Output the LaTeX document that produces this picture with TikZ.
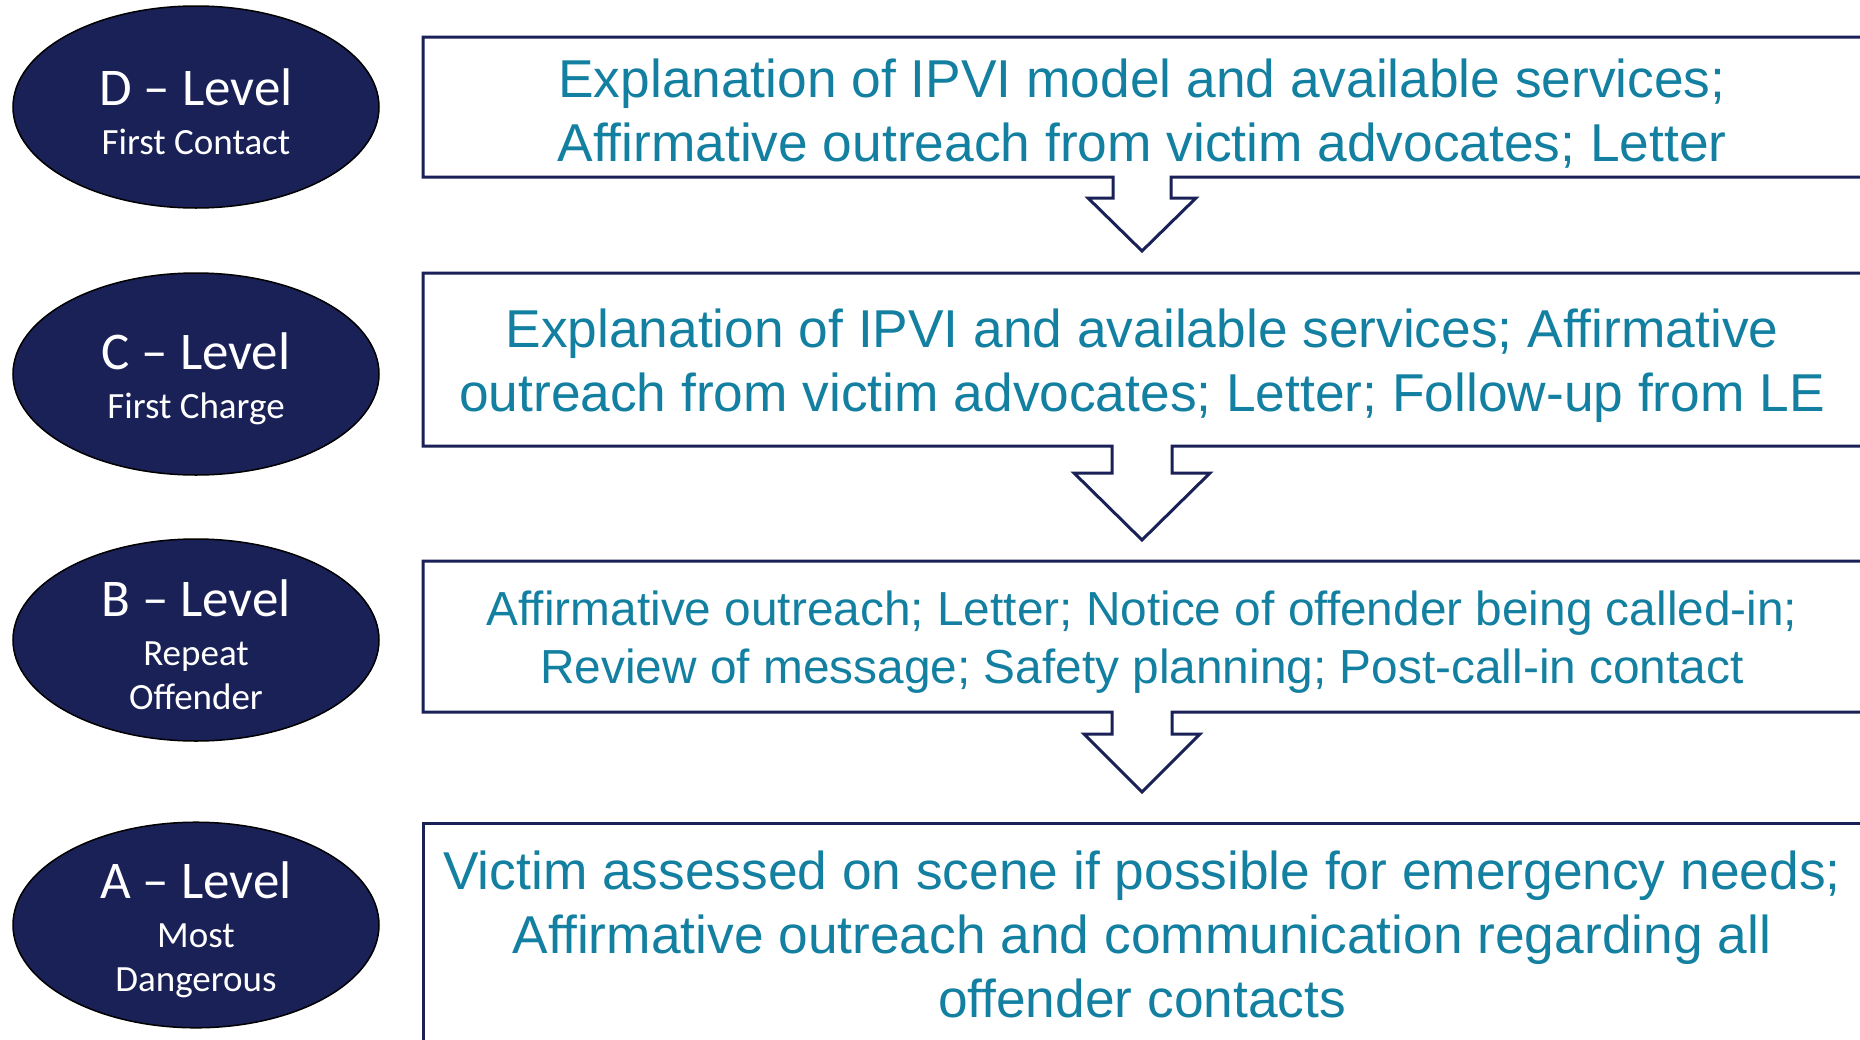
\documentclass[tikz,border=0pt]{standalone}
\usepackage{fontspec}
\setmainfont{Liberation Sans}
\newfontfamily\levelfont{Carlito}
\usetikzlibrary{shapes.geometric}
\definecolor{ipvinavy}{HTML}{1A2157}
\definecolor{ipviteal}{HTML}{1380A1}

% first line of a level, a bit taller so the text sits lower
\newcommand*{\biglevel}{\fontsize{53}{58}\selectfont\rule{0pt}{46pt}}
% outline of one step box, with its arrow hanging below
\newcommand*{\stepbox}[6]{%
  % #1: top of the box, #2: bottom of the box
  % #3: half width of the stem, #4: foot of the stem
  % #5: half width of the head, #6: tip of the arrow
  \draw[boxline] (423,#1) -- (1866,#1) -- (1866,#2) -- (1142+#3,#2) -- (1142+#3,#4) -- (1142+#5,#4)
    -- (1142,#6) -- (1142-#5,#4) -- (1142-#3,#4) -- (1142-#3,#2) -- (423,#2) -- cycle;%
}

\begin{document}
\begin{tikzpicture}[x=1pt, y=-1pt,
  level/.style={ellipse, draw=black, line width=1.5pt, fill=ipvinavy, text=white,
    minimum width=366pt, minimum height=202pt, inner sep=0pt, align=center,
    font=\levelfont\fontsize{37}{44}\selectfont},
  boxline/.style={draw=ipvinavy, line width=3pt, line join=miter},
  boxtext/.style={text=ipviteal, align=center, inner sep=0pt, font=\fontsize{53.3}{64}\selectfont},
  smalltext/.style={boxtext, font=\fontsize{47.8}{58}\selectfont}]
\clip (0,0) rectangle (1860,1039);
\fill[white] (0,0) rectangle (1860,1039);

% levels
\node[level] (d) at (196,107) {{\biglevel D \textendash{} Level}\\[5pt]First Contact};
\node[level] (c) at (196,374) {{\biglevel C \textendash{} Level}\\[5pt]First Charge};
\node[level] (b) at (196,640) {{\biglevel B \textendash{} Level}\\[5pt]Repeat\\Offender};
\node[level] (a) at (196,925) {{\biglevel A \textendash{} Level}\\[5pt]Most\\Dangerous};

% boxes and arrows
\stepbox{37}{177}{29}{198}{54}{251}
\stepbox{273}{446}{30}{473}{68}{540}
\stepbox{561}{712}{30}{734}{58}{792}
\draw[boxline] (423,1060) -- (423,823) -- (1866,823) -- (1866,1060);

\node[boxtext] (dtext) at (1142,116.5) {\strut Explanation of IPVI model and available services;\\
  Affirmative outreach from victim advocates; Letter\strut};
\node[boxtext] (ctext) at (1142,366.7) {\strut Explanation of IPVI and available services; Affirmative\\
  outreach from victim advocates; Letter; Follow-up from LE\strut};
\node[smalltext] (btext) at (1142,642.4) {\strut Affirmative outreach; Letter; Notice of offender being called-in;\\
  Review of message; Safety planning; Post-call-in contact\strut};
\node[boxtext] (atext) at (1142,940.8) {\strut Victim assessed on scene if possible for emergency needs;\\
  Affirmative outreach and communication regarding all\\
  offender contacts\strut};
\end{tikzpicture}
\end{document}
